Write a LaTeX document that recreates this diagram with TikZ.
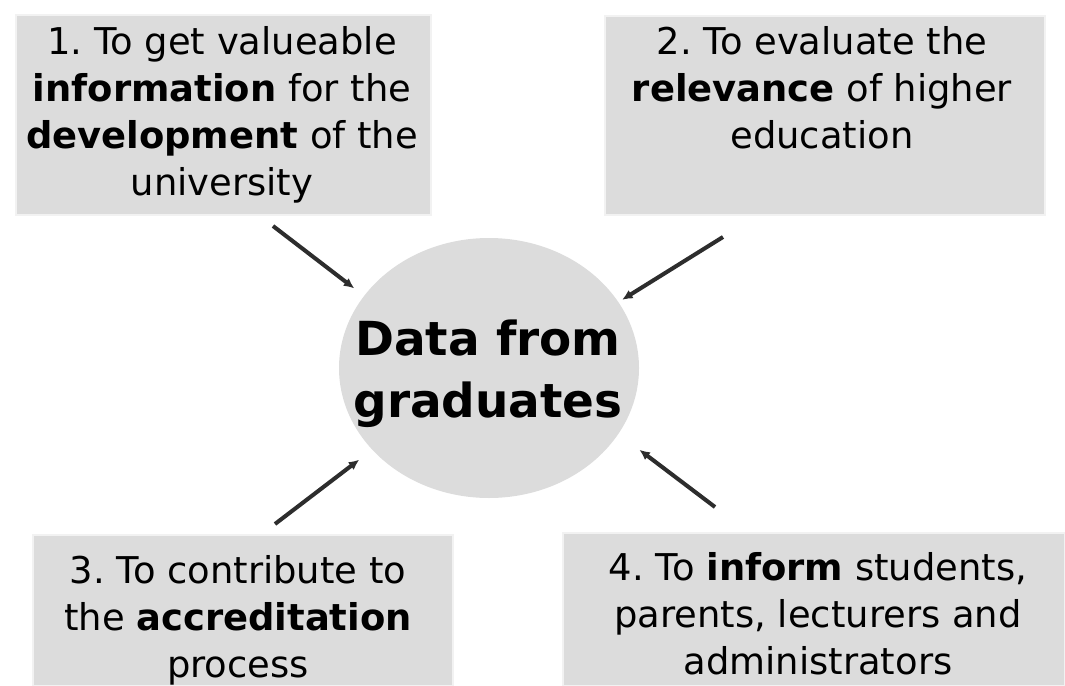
\documentclass[tikz,border=0pt]{standalone}
\usepackage{fontspec}
\setmainfont{DejaVu Sans}
\usepackage{xcolor}
\usetikzlibrary{arrows.meta, positioning, shapes.geometric}

\definecolor{boxgray}{RGB}{220,220,220}
\definecolor{arrowgray}{RGB}{45,45,45}
\frenchspacing

\begin{document}
\begin{tikzpicture}[
    x=0.02cm, y=-0.02cm,
    goalbox/.style={
        rectangle,
        fill=boxgray,
        draw=black!5,
        line width=1.2pt,
        inner sep=0pt
    },
    goaltext/.style={
        align=center,
        inner sep=0pt,
        font=\fontsize{21}{26.7}\selectfont
    },
    hub/.style={
        ellipse,
        fill=boxgray,
        inner sep=0pt
    },
    feed/.style={
        draw=arrowgray,
        line width=2.3pt,
        -{Latex[length=6pt,width=5.5pt]}
    }
]
    % One pixel of the reference image
    \def\px{0.02cm}
    \useasboundingbox (0,0) rectangle (1065,686);

    % Goal boxes
    \node[goalbox, minimum width=415*\px, minimum height=200*\px] (box1) at (223.5,115) {};
    \node[goalbox, minimum width=440*\px, minimum height=199*\px] (box2) at (825,115.5) {};
    \node[goalbox, minimum width=420*\px, minimum height=151*\px] (box3) at (243,610.5) {};
    \node[goalbox, minimum width=502*\px, minimum height=153*\px] (box4) at (814,609.5) {};

    % Goal texts
    \node[goaltext] (goal1) at (222,115) {1. To get valueable\\ \textbf{information} for the\\ \textbf{development} of the\\ university};
    \node[goaltext] (goal2) at (822,88) {2. To evaluate the\\ \textbf{relevance} of higher\\ education};
    \node[goaltext] (goal3) at (238,620) {3. To contribute to\\ the \textbf{accreditation}\\ process};
    \node[goaltext] (goal4) at (818,614) {4. To \textbf{inform} students,\\ parents, lecturers and\\ administrators};

    % Central disc
    \node[hub, minimum width=300*\px, minimum height=260*\px] (circ) at (489,368) {};
    \node[align=center, inner sep=0pt, font=\bfseries\fontsize{26.7}{35.3}\selectfont] (hubtext) at (488,373.5) {Data from\\ graduates};

    % Arrows into the disc
    \coordinate (start1) at (273,226);
    \coordinate (start2) at (723,237);
    \coordinate (start3) at (275,524);
    \coordinate (start4) at (715,507);
    \draw[feed, shorten >=12*\px] (start1) -- (circ.150);
    \draw[feed, shorten >=4*\px] (start2) -- (circ.27);
    \draw[feed, shorten >=16*\px] (start3) -- (circ.-145.5);
    \draw[feed, shorten >=26*\px] (start4) -- (circ.-27.9);

\end{tikzpicture}
\end{document}
